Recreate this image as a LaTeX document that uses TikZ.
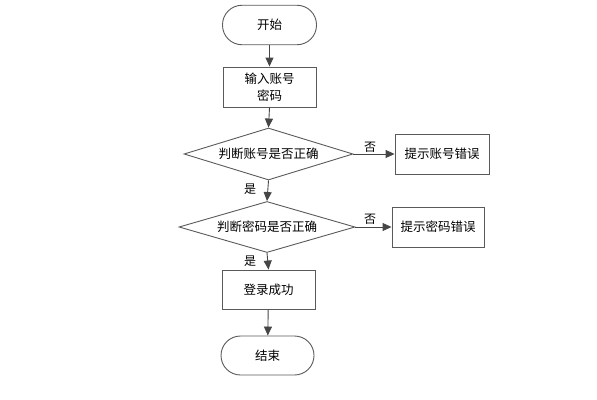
\documentclass[tikz,border=0pt]{standalone}
\usepackage{fontspec}
\newfontfamily\cjk{Noto Sans CJK SC}
\usetikzlibrary{shapes.geometric,arrows.meta}
\definecolor{ln}{RGB}{70,70,70}
\definecolor{bd}{RGB}{90,90,90}
\tikzset{
  base/.style={draw=bd, line width=0.9pt, font=\cjk\fontsize{12.5}{16.5}\selectfont, align=center, inner sep=0pt},
  term/.style={base, rounded corners=19.5pt, minimum width=94pt, minimum height=39.5pt},
  proc/.style={base, minimum width=93pt, minimum height=40pt},
  dec/.style={base, diamond, aspect=3.3, minimum width=170pt, minimum height=52pt},
  conn/.style={draw=ln, line width=0.9pt, -{Triangle[length=9pt,width=8pt]}},
  lab/.style={font=\cjk\fontsize{12}{14}\selectfont, inner sep=0pt}
}
\begin{document}
\begin{tikzpicture}[x=1pt,y=-1pt]
\useasboundingbox (0,0) rectangle (597,399);
\node[term] (start) at (269.5,25) {开始};
\node[proc] (input) at (269.5,87) {输入账号\\密码};
\node[dec, minimum width=169pt, minimum height=52pt] (d1) at (268.5,154) {判断账号是否正确};
\node[proc, minimum width=94pt] (e1) at (442,154) {提示账号错误};
\node[dec, minimum width=176pt, minimum height=51pt] (d2) at (267,227) {判断密码是否正确};
\node[proc, minimum width=92pt] (e2) at (438,227) {提示密码错误};
\node[proc, minimum height=39pt] (ok) at (268.5,289.5) {登录成功};
\node[term, minimum width=93pt, minimum height=39pt] (end) at (267.5,355.5) {结束};
\draw[conn] (start) -- (input);
\draw[conn] (input.south) -- (d1.north);
\draw[conn] (d1) -- (e1);
\draw[conn] (d1.south) -- (d2.north);
\draw[conn] (d2) -- (e2);
\draw[conn] (d2.south) -- (ok.north);
\draw[conn] (ok) -- (end);
\node[lab] (no1) at (370,147) {否};
\node[lab] (yes1) at (250,189) {是};
\node[lab] (no2) at (370,219) {否};
\node[lab] (yes2) at (250,261) {是};
\end{tikzpicture}
\end{document}
